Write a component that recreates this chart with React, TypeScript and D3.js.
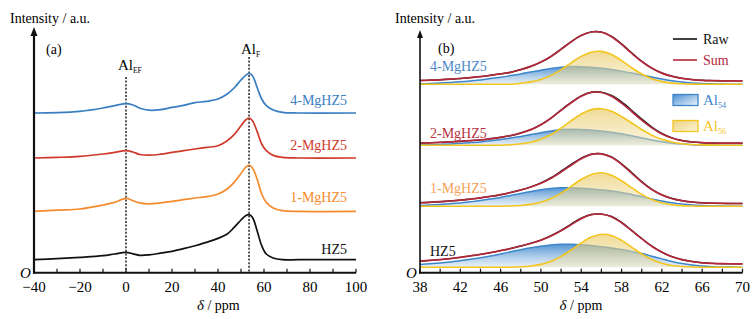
import React from 'react';
import * as d3 from 'd3';

// ---------- Panel (a): 27Al MAS NMR spectra ----------
const ppmA = [-40, -30, -20, -10, -5, 0, 3, 6, 10, 15, 20, 25, 30, 35, 40, 44, 47, 50, 52, 53.5, 55, 57, 59, 61, 64, 68, 75, 100];
const mg4A = [159.7, 160, 161.3, 164.7, 167, 169, 167.7, 164.5, 162.5, 163, 165.3, 167.3, 170, 171.3, 173.7, 178.7, 184.7, 192.7, 197.3, 199.3, 197, 185.3, 173.7, 167, 162.7, 160.3, 159.7, 159.7];
const mg2A = [114.7, 115.3, 116.3, 118.7, 120.3, 122, 120.7, 118.2, 117.5, 118.5, 120.3, 122, 123.7, 125.3, 127, 132, 138, 147, 152.7, 154.7, 152, 141.3, 128.7, 122, 117.3, 115.3, 114.7, 114.7];
const mg1A = [61.3, 62.5, 63.7, 67.7, 70.3, 74.3, 72, 69.8, 68.9, 69.8, 71.3, 73, 74.7, 76, 78.7, 83.7, 90.3, 99.3, 105.3, 107.7, 104.7, 93.7, 78.7, 70.3, 64.7, 62, 61.3, 61.3];
const hz5A = [13, 14, 15.3, 17, 18.7, 20.3, 18.9, 17.4, 17.8, 19.5, 21.3, 24, 27, 30.3, 34.3, 38.7, 45.3, 52.7, 57, 58, 55.3, 42, 27, 18.7, 14.7, 13, 13, 13];
const namesA = ['4-MgHZ5', '2-MgHZ5', '1-MgHZ5', 'HZ5'];
const markerPpm = [0, 53.5];
const ticksA = [-40, -20, 0, 20, 40, 60, 80, 100];
const minorA = [-30, -10, 10, 30, 50, 70, 90];

// ---------- Panel (b): deconvolution 38-70 ppm ----------
const ppmB = [38, 39, 40, 41, 42, 43, 44, 45, 46, 47, 48, 49, 50, 51, 52, 53, 54, 55, 56, 57, 58, 59, 60, 61, 62, 63, 64, 65, 66, 67, 68, 69, 70];
// 4-MgHZ5
const blue4 = [0.4, 0.7, 1.1, 1.7, 2.4, 3.3, 4.3, 5.6, 7.0, 8.6, 10.3, 12.2, 14, 15.6, 16.9, 17.6, 17.5, 16.9, 15.9, 14.6, 13, 11.2, 9.2, 7.2, 5.2, 3.5, 2.1, 1.2, 0.6, 0.3, 0.1, 0, 0];
const yellow4 = [0, 0, 0, 0, 0, 0, 0, 0, 0, 0, 1.0, 2.3, 4.8, 8.8, 14.6, 21.4, 27.8, 32, 32.8, 29.6, 23.6, 16.5, 10.2, 5.5, 2.6, 1.1, 0.4, 0.1, 0, 0, 0, 0, 0];
const sum4 = [3.7, 4.0, 4.4, 5.0, 5.7, 6.6, 7.6, 8.9, 10.3, 11.9, 14.6, 17.8, 22.1, 27.7, 34.8, 42.3, 48.6, 52.2, 52, 47.5, 39.9, 31, 22.7, 16, 11.1, 7.9, 5.8, 4.6, 3.9, 3.6, 3.4, 3.3, 3.3];
const raw4 = [3.7, 4.0, 4.4, 5.0, 5.7, 6.6, 7.6, 8.9, 10.3, 11.9, 14.6, 17.8, 22.1, 27.9, 35.2, 42.6, 48.8, 52.3, 52.1, 47.8, 40.3, 31.4, 23, 16.2, 11.2, 7.9, 5.8, 4.6, 3.9, 3.6, 3.4, 3.3, 3.3];
// 2-MgHZ5
const blue2 = [0.2, 0.4, 0.8, 1.3, 1.9, 2.6, 3.3, 4.5, 5.8, 7.1, 8.8, 10.6, 12.5, 14.3, 15.7, 16, 15.8, 15.2, 14.2, 13, 11.4, 9.5, 7.3, 5.2, 3.4, 2, 1.1, 0.5, 0.2, 0.1, 0, 0, 0];
const yellow2 = [0, 0, 0, 0, 0, 0, 0, 0, 0, 0.5, 1.4, 3.0, 6.0, 10.7, 17.1, 24.4, 31.2, 35.6, 36.5, 33.9, 28.7, 22.2, 15.7, 10.1, 5.9, 3.2, 1.5, 0.7, 0.3, 0.1, 0, 0, 0];
const sum2 = [2.2, 2.4, 2.8, 3.3, 3.9, 4.6, 5.3, 6.5, 7.9, 9.6, 12.2, 15.6, 20.5, 27, 34.8, 42.4, 49, 52.8, 52.7, 48.9, 42.1, 33.7, 25, 17.3, 11.3, 7.2, 4.6, 3.2, 2.5, 2.2, 2, 2, 2];
const raw2 = [2.2, 2.4, 2.8, 3.3, 3.9, 4.6, 5.3, 6.5, 7.9, 9.6, 12.2, 15.6, 20.5, 27.2, 35.2, 42.8, 49.3, 53, 53.1, 49.7, 43.3, 35, 26.2, 18.2, 11.8, 7.4, 4.7, 3.2, 2.5, 2.2, 2, 2, 2];
// 1-MgHZ5
const blue1 = [0.8, 1.2, 1.8, 2.5, 3.3, 4.4, 5.6, 7.1, 8.8, 10.8, 12.8, 14.7, 16.4, 17.7, 18.4, 18.4, 18, 17.3, 16.3, 15.2, 13.8, 11.8, 9.6, 7.3, 5.2, 3.5, 2.2, 1.3, 0.7, 0.3, 0.1, 0, 0];
const yellow1 = [0, 0, 0, 0, 0, 0, 0, 0, 0, 0.2, 0.7, 1.8, 3.9, 7.6, 13.1, 19.9, 26.7, 31.8, 33.4, 31, 25.4, 18.5, 11.8, 6.7, 3.4, 1.5, 0.6, 0.2, 0, 0, 0, 0, 0];
const sum1 = [3.5, 3.9, 4.5, 5.2, 6, 7.1, 8.3, 9.8, 11.5, 13.7, 16.2, 19.2, 23, 28, 34.2, 41, 47.4, 51.8, 52.4, 48.9, 41.9, 33, 24.1, 16.7, 11.3, 7.7, 5.5, 4.2, 3.4, 3, 2.8, 2.7, 2.7];
const raw1 = [3.5, 3.9, 4.5, 5.2, 6, 7.1, 8.3, 9.8, 11.5, 13.7, 16.2, 19.3, 23.3, 28.6, 35, 41.8, 48, 52, 52.5, 49.3, 42.5, 33.8, 24.6, 16.9, 11.3, 7.7, 5.5, 4.2, 3.4, 3, 2.8, 2.7, 2.7];
// HZ5
const blueH = [2.8, 3.5, 4.3, 5.3, 6.5, 8, 9.5, 11.3, 13.3, 15.4, 17.5, 19.4, 21, 22.3, 23, 23, 22.5, 21.6, 20.5, 19.3, 17.7, 15.8, 13.6, 11, 8.3, 5.7, 3.6, 2.1, 1.1, 0.5, 0.2, 0.1, 0];
const yellowH = [0, 0, 0, 0, 0, 0, 0, 0, 0, 0, 0.4, 1.2, 2.8, 5.9, 10.8, 17.2, 24.3, 30.1, 32.9, 31.7, 26.8, 20, 13.2, 7.6, 3.9, 1.7, 0.7, 0.3, 0, 0, 0, 0, 0];
const sumH = [6.1, 6.8, 7.6, 8.6, 9.8, 11.3, 12.8, 14.6, 16.6, 18.7, 21.2, 23.9, 27.1, 31.3, 36.5, 42.5, 48.5, 52.5, 53, 50.5, 44.5, 36.5, 28.5, 21, 15, 10.5, 7.5, 5.7, 4.4, 3.8, 3.5, 3.4, 3.3];
const rawH = [6.1, 6.8, 7.6, 8.6, 9.8, 11.3, 12.8, 14.6, 16.6, 18.7, 21.2, 23.9, 27.1, 31.5, 36.8, 43.2, 49, 52.7, 53.1, 50.7, 44.8, 36.8, 28.7, 21.1, 15, 10.5, 7.5, 5.7, 4.4, 3.8, 3.5, 3.4, 3.3];
const namesB = ['4-MgHZ5', '2-MgHZ5', '1-MgHZ5', 'HZ5'];
const ticksB = [38, 42, 46, 50, 54, 58, 62, 66, 70];
const minorB = [40, 44, 48, 52, 56, 60, 64, 68];
const legendLines = ['Raw', 'Sum'];
const legendAreas = ['54', '56'];

// ---------- styles ----------
const FONT = '"Liberation Serif", "Times New Roman", serif';
const colorsA = ['#3a7ec2', '#cf3a2c', '#f48b2c', '#111111'];
const labelColorsB = ['#4a87c7', '#b8323f', '#f5a157', '#111111'];
const BLUE = '#3d86cc';
const YELLOW = '#f2c51f';
const SUMRED = '#b3283a';

const yS = d3.scaleLinear().domain([0, 242]).range([272.7, 30.7]);
const xA = d3.scaleLinear().domain([-40, 100]).range([34, 356]);
const xB = d3.scaleLinear().domain([38, 70]).range([420, 742.5]);
const offsetsB = [188.5, 127.5, 66.5, 5.5];

const fmt = (v: number) => (v < 0 ? '\u2212' + Math.abs(v) : String(v));

function lineA(data: number[]) {
  return d3
    .line<number>()
    .x((_, i) => xA(ppmA[i]))
    .y((d) => yS(d))
    .curve(d3.curveCatmullRom.alpha(0.5))(data) as string;
}
function lineB(data: number[], off: number) {
  return d3
    .line<number>()
    .x((_, i) => xB(ppmB[i]))
    .y((d) => yS(d + off))
    .curve(d3.curveCatmullRom.alpha(0.5))(data) as string;
}
function areaB(data: number[], off: number) {
  return d3
    .area<number>()
    .x((_, i) => xB(ppmB[i]))
    .y0(yS(off))
    .y1((d) => yS(d + off))
    .curve(d3.curveCatmullRom.alpha(0.5))(data) as string;
}

export default function App() {
  const seriesA = [mg4A, mg2A, mg1A, hz5A];
  const labelYA = [105, 150, 202, 254];
  const seriesB = [
    { blue: blue4, yellow: yellow4, sum: sum4, raw: raw4 },
    { blue: blue2, yellow: yellow2, sum: sum2, raw: raw2 },
    { blue: blue1, yellow: yellow1, sum: sum1, raw: raw1 },
    { blue: blueH, yellow: yellowH, sum: sumH, raw: rawH },
  ];
  const labelYB = [71, 138, 193, 256];
  const axisY = yS(0);

  return (
    <svg
      width={756}
      height={319}
      style={{ position: 'absolute', left: 0, top: 0, background: '#fff' }}
      fontFamily={FONT}
    >
      <defs>
        <linearGradient id="gBlue" x1="0" y1="0" x2="0" y2="1">
          <stop offset="0" stopColor="#4a8fd0" stopOpacity={0.95} />
          <stop offset="1" stopColor="#dfeaf6" stopOpacity={0.7} />
        </linearGradient>
        <linearGradient id="gYellow" x1="0" y1="0" x2="0" y2="1">
          <stop offset="0" stopColor="#e9c75e" stopOpacity={0.66} />
          <stop offset="1" stopColor="#f3e6b4" stopOpacity={0.45} />
        </linearGradient>
        <linearGradient id="gBlueBox" x1="0" y1="0" x2="1" y2="1">
          <stop offset="0" stopColor="#4a8fd0" />
          <stop offset="1" stopColor="#eef5fc" />
        </linearGradient>
        <linearGradient id="gYellowBox" x1="0" y1="0" x2="1" y2="1">
          <stop offset="0" stopColor="#ecd37e" />
          <stop offset="1" stopColor="#fbf3d6" />
        </linearGradient>
      </defs>

      {/* ================= Panel (a) ================= */}
      <text x={10} y={23} fontSize={14}>Intensity / a.u.</text>
      <text x={46} y={54} fontSize={14}>(a)</text>

      {markerPpm.map((p, i) => (
        <line
          key={'m' + i}
          x1={xA(p)}
          x2={xA(p)}
          y1={i === 0 ? 77 : 57}
          y2={axisY}
          stroke="#111"
          strokeWidth={1.4}
          strokeDasharray="2 1.6"
        />
      ))}
      <text x={118} y={70} fontSize={15}>
        Al<tspan fontSize={7.5} dy={3}>EF</tspan>
      </text>
      <text x={241} y={54} fontSize={15}>
        Al<tspan fontSize={7.5} dy={3}>F</tspan>
      </text>

      {seriesA.map((s, i) => (
        <path key={'a' + i} d={lineA(s)} fill="none" stroke={colorsA[i]} strokeWidth={1.7} />
      ))}
      {namesA.map((n, i) => (
        <text key={'na' + i} x={347} y={labelYA[i]} fontSize={14} textAnchor="end" fill={colorsA[i]}>
          {n}
        </text>
      ))}

      <line x1={34} x2={34} y1={axisY + 1} y2={34} stroke="#111" strokeWidth={2.2} />
      <path d="M34,27 L30.5,36 L37.5,36 Z" fill="#111" />
      <line x1={33} x2={xA(100)} y1={axisY} y2={axisY} stroke="#111" strokeWidth={2} />
      {ticksA.concat(minorA).map((t) => (
        <line key={'ta' + t} x1={xA(t)} x2={xA(t)} y1={axisY} y2={axisY - 4} stroke="#111" strokeWidth={1.2} />
      ))}
      {ticksA.map((t) => (
        <text key={'la' + t} x={xA(t)} y={292} fontSize={15} textAnchor="middle">
          {fmt(t)}
        </text>
      ))}
      <text x={20} y={278} fontSize={15} fontStyle="italic">O</text>
      <text x={197} y={310} fontSize={14}>
        <tspan fontStyle="italic" fontSize={15}>δ</tspan> / ppm
      </text>

      {/* ================= Panel (b) ================= */}
      <text x={395} y={23} fontSize={14}>Intensity / a.u.</text>
      <text x={438} y={53} fontSize={14}>(b)</text>

      {seriesB.map((s, i) => {
        const off = offsetsB[i];
        return (
          <g key={'b' + i}>
            <path d={areaB(s.blue, off)} fill="url(#gBlue)" stroke="none" />
            <path d={lineB(s.blue, off)} fill="none" stroke={BLUE} strokeWidth={1.5} />
            <path d={areaB(s.yellow, off)} fill="url(#gYellow)" stroke="none" />
            <path d={lineB(s.yellow, off)} fill="none" stroke={YELLOW} strokeWidth={1.6} />
            <path d={lineB(s.raw, off)} fill="none" stroke="#1a1a1a" strokeWidth={1.4} />
            <path d={lineB(s.sum, off)} fill="none" stroke={SUMRED} strokeWidth={1.7} />
          </g>
        );
      })}
      {namesB.map((n, i) => (
        <text key={'nb' + i} x={430} y={labelYB[i]} fontSize={14} fill={labelColorsB[i]}>
          {n}
        </text>
      ))}

      {legendLines.map((l, i) => (
        <g key={'ll' + i}>
          <line x1={673} x2={697} y1={39 + i * 21} y2={39 + i * 21} stroke={i === 0 ? '#111' : SUMRED} strokeWidth={1.6} />
          <text x={703} y={44 + i * 21} fontSize={14} fill={i === 0 ? '#111' : SUMRED}>
            {l}
          </text>
        </g>
      ))}
      {legendAreas.map((l, i) => (
        <g key={'la2' + i}>
          <rect
            x={673}
            y={94.5 + i * 26}
            width={25}
            height={11}
            fill={i === 0 ? 'url(#gBlueBox)' : 'url(#gYellowBox)'}
            stroke={i === 0 ? BLUE : YELLOW}
            strokeWidth={1.3}
          />
          <text x={703} y={105 + i * 26} fontSize={15} fill={i === 0 ? BLUE : YELLOW}>
            Al<tspan fontSize={8} dy={3}>{l}</tspan>
          </text>
        </g>
      ))}

      <line x1={420} x2={420} y1={axisY + 1} y2={37} stroke="#111" strokeWidth={1.6} />
      <path d="M420,30 L417,38 L423,38 Z" fill="#111" />
      <line x1={419} x2={xB(70)} y1={axisY} y2={axisY} stroke="#111" strokeWidth={2} />
      {ticksB.concat(minorB).map((t) => (
        <line key={'tb' + t} x1={xB(t)} x2={xB(t)} y1={axisY} y2={axisY - 4} stroke="#111" strokeWidth={1.2} />
      ))}
      {ticksB.map((t) => (
        <text key={'lb' + t} x={xB(t)} y={292} fontSize={15} textAnchor="middle">
          {fmt(t)}
        </text>
      ))}
      <text x={406} y={278} fontSize={15} fontStyle="italic">O</text>
      <text x={581} y={310} fontSize={14} textAnchor="middle">
        <tspan fontStyle="italic" fontSize={15}>δ</tspan> / ppm
      </text>
    </svg>
  );
}
